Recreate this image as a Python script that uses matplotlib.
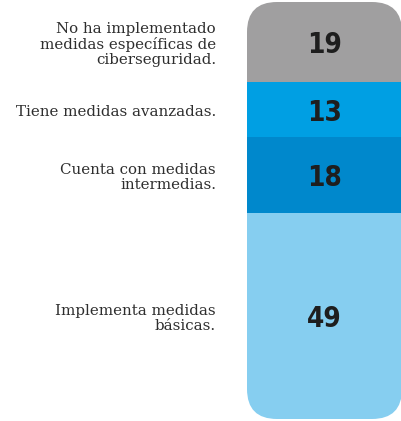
import matplotlib
matplotlib.use("Agg")
import matplotlib.pyplot as plt
import matplotlib.transforms as mtransforms
from matplotlib.patches import FancyBboxPatch
import numpy as np

# data, top to bottom
labels = ["No ha implementado\nmedidas específicas de\nciberseguridad.",
          "Tiene medidas avanzadas.",
          "Cuenta con medidas\nintermedias.",
          "Implementa medidas\nbásicas."]
values = [19, 13, 18, 49]
colors = ["#a09fa0", "#009fe3", "#0088cc", "#86cef0"]

W, H = 402, 421
fig = plt.figure(figsize=(W / 100, H / 100), dpi=100)
fig.patch.set_facecolor("white")

# axes covers just the bar
ax = fig.add_axes([247 / W, 2 / H, 155 / W, 417 / H])
ax.set_xlim(-0.5, 0.5)
ax.set_ylim(sum(values), 0)
ax.axis("off")

bottoms = np.concatenate([[0], np.cumsum(values)[:-1]])
bars = ax.bar(0, values, bottom=bottoms, width=1, color=colors, linewidth=0)

# rounded outline used as clip
r = 30
clip = FancyBboxPatch((0, 0), 1, 1, boxstyle="round,pad=0,rounding_size=%f" % (r / 155),
                      mutation_aspect=(155 / 417), transform=ax.transAxes,
                      facecolor="none", edgecolor="none")
ax.add_patch(clip)
for b in bars:
    b.set_clip_path(clip)

lab_tr = mtransforms.blended_transform_factory(ax.transAxes, ax.transData)
for lab, v, b0 in zip(labels, values, bottoms):
    mid = b0 + v / 2
    ax.text(0, mid + 0.8, str(v), ha="center", va="center", fontsize=20, fontweight="bold",
            family="DejaVu Sans", fontstretch="condensed", color="#1e1e1e")
    ax.text(-0.2, mid + 0.6, lab, transform=lab_tr,
            ha="right", va="center", multialignment="right", fontsize=10.8,
            family="DejaVu Serif", color="#2e2e2e", linespacing=1.1, clip_on=False)

fig.savefig("out.png", dpi=100)
